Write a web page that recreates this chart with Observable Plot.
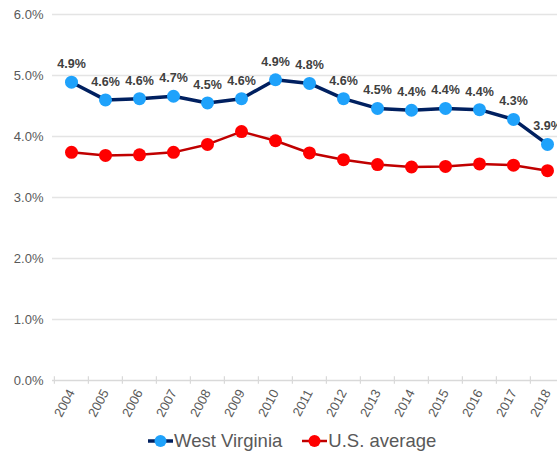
<!DOCTYPE html>
<html><head><meta charset="utf-8">
<script src="https://cdn.jsdelivr.net/npm/d3@7"></script>
<script src="https://cdn.jsdelivr.net/npm/@observablehq/plot@0.6"></script>
<style>
html,body{margin:0;padding:0;background:#fff;overflow:hidden}
body{width:557px;height:453px;position:relative;font-family:"Liberation Sans",Arial,Helvetica,sans-serif}
#legend{position:absolute;left:148px;top:428px;height:26px;display:flex;align-items:center;font-size:18.5px;color:#595959;white-space:nowrap}
#legend .item{display:flex;align-items:center;margin-right:20px}
#legend svg{display:block;margin-right:1px}
</style></head><body>
<div id="chart"></div>
<div id="legend"></div>
<script>
const years = ["2004","2005","2006","2007","2008","2009","2010","2011","2012","2013","2014","2015","2016","2017","2018"];
const westVirginia = [4.89,4.60,4.62,4.66,4.55,4.62,4.93,4.87,4.62,4.46,4.43,4.46,4.44,4.28,3.87];
const usAverage = [3.74,3.69,3.70,3.74,3.87,4.08,3.93,3.73,3.62,3.54,3.50,3.51,3.55,3.53,3.44];
const wvLabels = ["4.9%","4.6%","4.6%","4.7%","4.5%","4.6%","4.9%","4.8%","4.6%","4.5%","4.4%","4.4%","4.4%","4.3%","3.9%"];
const yTicks = [0,1,2,3,4,5,6];
const seriesNames = ["West Virginia","U.S. average"];
const lineColors = ["#002060","#c00000"];
const dotColors = ["#1fa2fb","#ff0000"];

const data = years.map((y,i)=>({year:y, wv:westVirginia[i], us:usAverage[i], label:wvLabels[i]}));

const chart = Plot.plot({
  width:557, height:425,
  marginTop:14, marginBottom:45, marginLeft:52, marginRight:0,
  style:{fontFamily:'"Liberation Sans",Arial,Helvetica,sans-serif', fontSize:"13px", color:"#595959", background:"#fff", overflow:"hidden"},
  x:{type:"band", domain:years, range:[52,565], padding:0, label:null, tickSize:0, tickPadding:10, tickRotate:-62},
  y:{domain:[0,6], range:[380,14], ticks:yTicks, tickFormat:d=>d.toFixed(1)+"%", tickSize:0, tickPadding:9, label:null},
  marks:[
    Plot.ruleY(yTicks.filter(d=>d>0), {stroke:"#e4e4e4", strokeWidth:1.5}),
    Plot.ruleY([0], {stroke:"#d9d9d9", strokeWidth:1.5}),
    Plot.ruleX(years, {x:d=>d, y1:0.06, y2:-0.06, dx:-17.1, stroke:"#d9d9d9", strokeWidth:1.2}),
    Plot.line(data, {x:"year", y:"us", stroke:lineColors[1], strokeWidth:2.5}),
    Plot.dot(data, {x:"year", y:"us", r:6.5, fill:dotColors[1]}),
    Plot.line(data, {x:"year", y:"wv", stroke:lineColors[0], strokeWidth:3.5}),
    Plot.dot(data, {x:"year", y:"wv", r:6.5, fill:dotColors[0]}),
    Plot.text(data, {x:"year", y:"wv", text:"label", dy:-18, fontWeight:"bold", fontSize:12.5, fill:"#404040"})
  ]
});
document.getElementById("chart").appendChild(chart);

const legend = document.getElementById("legend");
seriesNames.forEach((name,i)=>{
  const item = document.createElement("div");
  item.className = "item";
  item.innerHTML = `<svg width="25" height="14"><line x1="0" y1="7" x2="25" y2="7" stroke="${lineColors[i]}" stroke-width="${i===0?3.5:2.5}"/><circle cx="12.5" cy="7" r="6" fill="${dotColors[i]}"/></svg><span>${name}</span>`;
  legend.appendChild(item);
});
</script>
</body></html>
